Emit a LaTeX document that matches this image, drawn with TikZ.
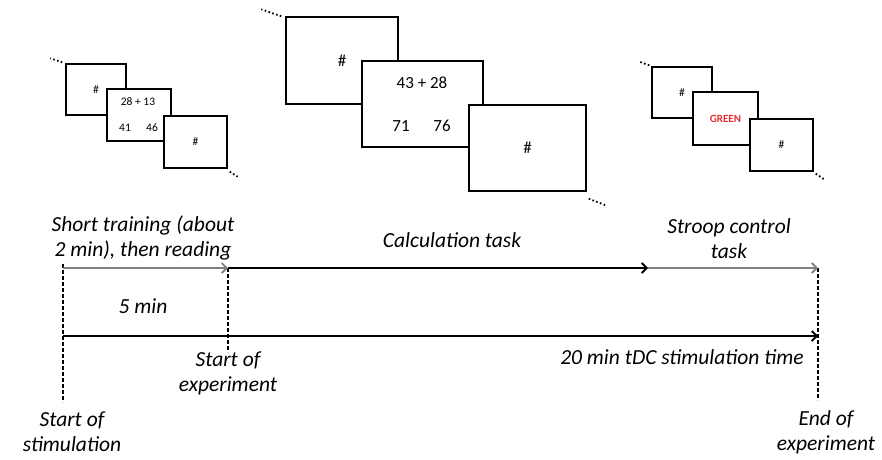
\documentclass[tikz,border=0pt]{standalone}
\usepackage{fontspec}
\setmainfont{Carlito}
\usetikzlibrary{arrows.meta, positioning, calc}
\definecolor{stroopred}{RGB}{232,45,45}

\begin{document}
\begin{tikzpicture}[x=1pt, y=-1pt, >={Straight Barb[length=5pt,width=10pt]},
    screen/.style={draw, line width=1.4pt, fill=white, inner sep=0pt},
    small/.style={font=\fontsize{11.5}{13}\selectfont},
    large/.style={font=\fontsize{17}{20}\selectfont},
    lbl/.style={font=\fontsize{21.5}{25}\selectfont\itshape, align=center, inner sep=0pt},
    tline/.style={line width=1.8pt},
    vdash/.style={line width=1.5pt, dash pattern=on 4pt off 2pt},
    dots/.style={line width=1.8pt, dash pattern=on 1.6pt off 2.4pt}]
    \useasboundingbox (0,0) rectangle (882,459);

    % training screens
    \node[screen, small, minimum width=60, minimum height=51] (a1) at (96,89.5) {\#};
    \node[screen, minimum width=64, minimum height=52] (a2) at (139,115) {};
    \node[screen, small, minimum width=63, minimum height=52] (a3) at (195.5,142) {\#};
    \node[small] (a2q) at (138,102) {28 + 13};
    \node[small] (a2l) at (125,128) {41};
    \node[small] (a2r) at (152,128) {46};
    \draw[dots] ($(a1.north west)+(-3,-1)$) -- ++(-12,-4);
    \draw[dots] ($(a3.south east)+(2,3)$) -- ++(8,5);

    % calculation screens
    \node[screen, large, minimum width=112, minimum height=87] (b1) at (342,60.5) {\#};
    \node[screen, minimum width=121, minimum height=86] (b2) at (422.5,104) {};
    \node[screen, large, minimum width=117, minimum height=86] (b3) at (527.5,148) {\#};
    \node[large] (b2q) at (422,83) {43 + 28};
    \node[large] (b2l) at (401,126) {71};
    \node[large] (b2r) at (442,126) {76};
    \draw[dots] ($(b1.north west)+(-4,0)$) -- ++(-20,-7);
    \draw[dots] ($(b3.south east)+(2,7)$) -- ++(18,7);

    % stroop screens
    \node[screen, small, minimum width=60, minimum height=51] (c1) at (682,92.5) {\#};
    \node[screen, font=\fontsize{11}{13}\selectfont\bfseries, text=stroopred,
      minimum width=65, minimum height=53] (c2) at (725.5,118.5) {GREEN};
    \node[screen, small, minimum width=63, minimum height=52] (c3) at (781.5,145) {\#};
    \draw[dots] ($(c1.north west)+(-2,-1)$) -- ++(-11,-4);
    \draw[dots] ($(c3.south east)+(2,2)$) -- ++(9,6);

    % timeline
    \coordinate (t0) at (63,264);
    \coordinate (b0) at (63,402);
    \coordinate (t1) at (228,268);
    \coordinate (b1) at (228,352);
    \coordinate (t2) at (648,268);
    \coordinate (t3) at (818,268);
    \coordinate (b3) at (818,400);
    \coordinate (s0) at (63,268);
    \coordinate (m0) at (63,336);
    \coordinate (m3) at (818,336);
    \draw[vdash] (t0) -- (b0);
    \draw[vdash] (t1) -- (b1);
    \draw[vdash] (t3) -- (b3);
    \draw[tline, ->, gray] (s0) -- (t1);
    \draw[tline, ->] (t1) -- (t2);
    \draw[tline, ->, gray] (t2) -- (t3);
    \draw[tline, ->] (m0) -- (m3);

    \node[lbl] (train) at (143,238) {Short training (about\\2 min), then reading};
    \node[lbl] (calc) at (452,240) {Calculation task};
    \node[lbl] (stroop) at (729,239) {Stroop control\\task};
    \node[lbl] (five) at (143,306) {5 min};
    \node[lbl] (tdc) at (682,357) {20 min tDC stimulation time};
    \node[lbl] (sexp) at (228,373) {Start of\\experiment};
    \node[lbl] (sstim) at (72,432) {Start of\\stimulation};
    \node[lbl] (eexp) at (826,432) {End of\\experiment};
\end{tikzpicture}
\end{document}
